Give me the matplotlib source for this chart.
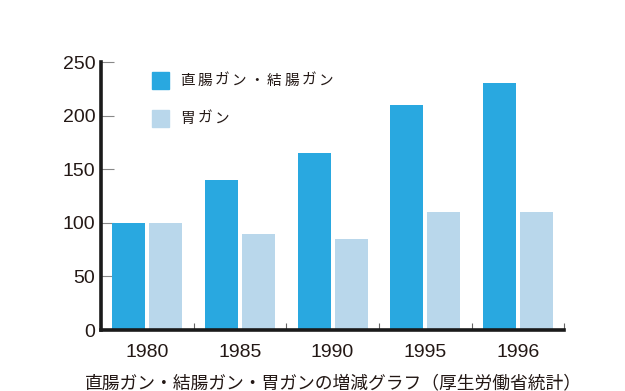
import numpy as np
import matplotlib.pyplot as plt

plt.rcParams['font.family'] = ['Liberation Sans', 'Noto Sans CJK JP', 'DejaVu Sans']

# data
years = ['1980', '1985', '1990', '1995', '1996']
colon = [100, 140, 165, 210, 230]    # 直腸ガン・結腸ガン
stomach = [100, 90, 85, 110, 110]    # 胃ガン
y_ticks = [0, 50, 100, 150, 200, 250]

dark = '#29a8e0'
light = '#b9d7eb'

fig = plt.figure(figsize=(6.25, 3.91), dpi=100)
ax = fig.add_axes([0.1616, 0.156, 0.741, 0.6854])

x = np.arange(len(years))
w = 0.356
ax.bar(x - 0.2, colon, width=w, color=dark, zorder=2)
ax.bar(x + 0.2, stomach, width=w, color=light, zorder=2)

ax.set_xlim(-0.5, len(years) - 0.5)
ax.set_ylim(0, 250)

for s in ['top', 'right']:
    ax.spines[s].set_visible(False)
for s in ['left', 'bottom']:
    ax.spines[s].set_linewidth(2.6)
    ax.spines[s].set_color('#1a1a1a')
    ax.spines[s].set_capstyle('projecting')

ax.set_yticks(y_ticks)
ax.set_yticklabels([str(v) for v in y_ticks])
ax.tick_params(axis='y', direction='in', length=9, width=0.8, color='#888888',
               labelsize=14, pad=4, labelcolor='#231815')

ax.set_xticks(x)
ax.set_xticklabels(years)
ax.tick_params(axis='x', which='major', length=0, labelsize=14, pad=10,
               labelcolor='#231815')
ax.set_xticks(np.arange(-0.5, len(years)), minor=True)
ax.tick_params(axis='x', which='minor', direction='in', length=5, width=0.8,
               color='#666666')

# legend (letter-spaced text like the original)
jp = ['Noto Sans CJK JP', 'DejaVu Sans']


def spaced_text(x0, y0, s, pitch, size):
    for i, ch in enumerate(s):
        fig.text((x0 + i * pitch) / 625, 1 - y0 / 391, ch, family=jp,
                 fontsize=size, va='center', ha='left', color='#231815')


fig.patches.append(plt.Rectangle((152 / 625, 1 - 89 / 391), 17 / 625, 17 / 391,
                                 transform=fig.transFigure, color=dark))
fig.patches.append(plt.Rectangle((152 / 625, 1 - 127 / 391), 17 / 625, 17 / 391,
                                 transform=fig.transFigure, color=light))
spaced_text(180, 81, '直腸ガン・結腸ガン', 17.4, 10.5)
spaced_text(180, 119, '胃ガン', 17.4, 10.5)

fig.text(333 / 625, 1 - 383 / 391, '直腸ガン・結腸ガン・胃ガンの増減グラフ（厚生労働省統計）',
         family=jp, fontsize=12.8, va='center', ha='center', color='#231815')

fig.savefig('out.png', dpi=100)
